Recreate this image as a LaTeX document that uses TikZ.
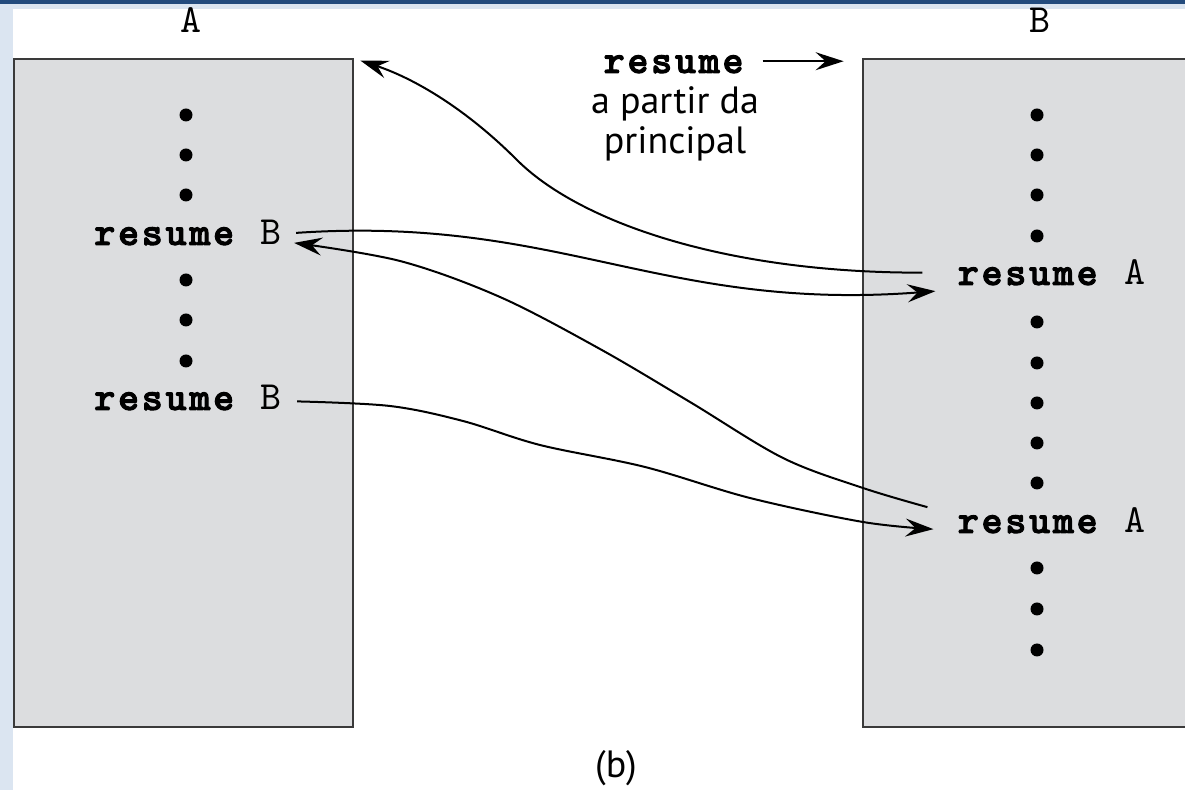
\documentclass[tikz,border=0pt]{standalone}
\usepackage{fontspec}
\setmainfont{PT Sans}
\newfontfamily\codefont[Extension=.otf, UprightFont=lmmono10-regular, BoldFont=lmmonolt10-bold, BoldFeatures={FakeBold=2.5}, LetterSpace=6.9]{lmmono10-regular}
\usetikzlibrary{arrows.meta}
\definecolor{barblue}{HTML}{234B7D}
\definecolor{paleblue}{HTML}{DBE5F1}
\definecolor{boxgray}{HTML}{DCDDDF}
\definecolor{edgegray}{HTML}{3A3A3A}
\begin{document}
\begin{tikzpicture}[x=0.5pt,y=-0.5pt,
  proc/.style={fill=boxgray, draw=edgegray, line width=1.4pt, inner sep=0pt},
  code/.style={font=\codefont\fontsize{20}{22}\selectfont, inner sep=0pt, anchor=base},
  note/.style={font=\fontsize{19}{20}\selectfont, inner sep=0pt, align=center},
  dot/.style={circle, fill=black, inner sep=0pt, minimum size=6.5pt},
  flow/.style={line width=1pt, -{Stealth[length=14pt,width=9pt,inset=5pt]}},
  ]
\useasboundingbox (0,0) rectangle (1185,790);
\clip (0,0) rectangle (1185,790);
% frame strips
\fill[paleblue] (0,0) rectangle (13,790);
\fill[paleblue] (0,0) rectangle (1185,9);
\fill[barblue] (0,0) rectangle (1185,4);

% the two coroutines
\node[proc, minimum width=169.5pt, minimum height=334pt] (pA) at (183.5,393) {};
\node[proc, minimum width=173.5pt, minimum height=334pt] (pB) at (1036.5,393) {};
\node[code] (labA) at (191,33) {A};
\node[code] (labB) at (1040,33) {B};

% body of A
\foreach \y in {115,155,195,280,320,361} \node[dot] at (186,\y) {};
\node[code] (rb1) at (188,245) {\textbf{resume} B};
\node[code] (rb2) at (188,410) {\textbf{resume} B};

% body of B
\foreach \y in {115,155,195,236,322,363,403,443,483,568,609,650} \node[dot] at (1037,\y) {};
\node[code] (ra1) at (1051.5,285) {\textbf{resume} A};
\node[code] (ra2) at (1051.5,533) {\textbf{resume} A};

% entry from the main program
\node[code] (topres) at (675,73) {\textbf{resume}};
\node[note] (from) at (675,124) {a partir da\\principal};
\coordinate (topout) at ([xshift=8pt,yshift=1.5pt]topres.east);
\coordinate (tipT) at ([xshift=-9pt]pB.north west);
\draw[flow] (topout) -- (tipT |- topout);

% transfers of control
\coordinate (c1s) at ([xshift=-17.5pt]ra1.west);
\coordinate (cornerA) at ([xshift=3pt,yshift=-1.5pt]pA.north east);
\draw[flow] (c1s) .. controls (720,273) and (577,220) .. (517,160)
                  .. controls (462,105) and (410,77) .. (cornerA);
\draw[flow] ([xshift=7pt]rb1.east) .. controls (560,215) and (660,312) .. ([xshift=-11pt,yshift=-9.25pt]ra1.west);
\draw[flow] plot[smooth, tension=0.55] coordinates {([xshift=-15pt,yshift=6.75pt]ra2.west) (863,488) (783,458) (690,402) (600,349) (500,297) (400,261) ([xshift=6pt,yshift=-5pt]rb1.east)};
\draw[flow] plot[smooth, tension=0.55] coordinates {([xshift=7.5pt,yshift=-1.75pt]rb2.east) (390,406) (463,421) (540,445) (645,467) (750,498) (863,522) ([xshift=-12pt,yshift=-4.25pt]ra2.west)};

\node[note, anchor=base] (cap) at (616,778) {(b)};
\end{tikzpicture}
\end{document}
